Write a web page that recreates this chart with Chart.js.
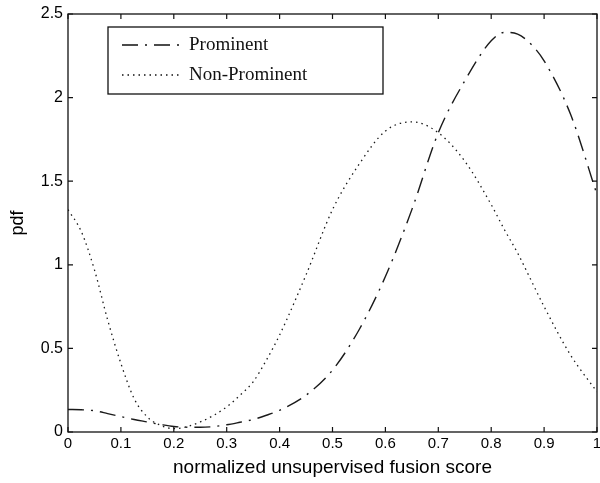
<!DOCTYPE html>
<html>
<head>
<meta charset="utf-8">
<script src="https://cdn.jsdelivr.net/npm/chart.js@4/dist/chart.umd.min.js"></script>
<style>
html,body{margin:0;padding:0;background:#fff;}
#wrap{width:600px;height:483px;position:relative;}
</style>
</head>
<body>
<div id="wrap"><canvas id="chart"></canvas></div>
<script>

// score values on the x axis
let scores = [0, 0.025, 0.05, 0.075, 0.1, 0.125, 0.15, 0.175, 0.2, 0.25, 0.3, 0.325, 0.35, 0.375, 0.4, 0.45, 0.5, 0.55, 0.6, 0.65, 0.7, 0.75, 0.8, 0.825, 0.85, 0.875, 0.9, 0.95, 1.0];

let prominent = [0.135, 0.133, 0.127, 0.11, 0.092, 0.075, 0.06, 0.045, 0.033, 0.028, 0.043, 0.058, 0.075, 0.10, 0.13, 0.22, 0.37, 0.61, 0.93, 1.33, 1.79, 2.10, 2.34, 2.39, 2.38, 2.32, 2.22, 1.90, 1.42];

let nonProminent = [1.33, 1.20, 0.97, 0.67, 0.41, 0.20, 0.09, 0.04, 0.02, 0.06, 0.15, 0.22, 0.30, 0.43, 0.58, 0.94, 1.33, 1.60, 1.80, 1.855, 1.79, 1.62, 1.36, 1.21, 1.07, 0.91, 0.75, 0.46, 0.24];

let seriesLabels = ["Prominent", "Non-Prominent"];

let xTitle = "normalized unsupervised fusion score";
let yTitle = "pdf";

function toPoints(values){
return scores.map((s, i) => ({x: s, y: values[i]}));
}

// matlab style labels: 1 not 1.0
function shortLabel(value){
return String(Number(value.toFixed(2)));
}

/* box, inward ticks and legend like the matlab figure */
let matlabFrame = {
id: "matlabFrame",
afterDatasetsDraw(chart){
let ctx = chart.ctx;
let a = chart.chartArea;
let xs = chart.scales.x;
let ys = chart.scales.y;

ctx.save();
ctx.strokeStyle = "#111";
ctx.lineWidth = 1.3;
ctx.strokeRect(a.left, a.top, a.right - a.left, a.bottom - a.top);

ctx.lineWidth = 1.2;
ctx.beginPath();
xs.ticks.forEach(t => {
let px = xs.getPixelForValue(t.value);
ctx.moveTo(px, a.bottom); ctx.lineTo(px, a.bottom - 5);
ctx.moveTo(px, a.top); ctx.lineTo(px, a.top + 5);
});
ys.ticks.forEach(t => {
let py = ys.getPixelForValue(t.value);
ctx.moveTo(a.left, py); ctx.lineTo(a.left + 5, py);
ctx.moveTo(a.right, py); ctx.lineTo(a.right - 5, py);
});
ctx.stroke();

/* legend */
let lx = a.left + 40, ly = a.top + 13, lw = 275, lh = 67;
ctx.fillStyle = "#fff";
ctx.fillRect(lx, ly, lw, lh);
ctx.lineWidth = 1.3;
ctx.strokeRect(lx, ly, lw, lh);

ctx.font = "19px 'Liberation Serif', 'DejaVu Serif', serif";
ctx.textBaseline = "middle";
chart.data.datasets.forEach((ds, i) => {
let rowY = ly + 18 + i * 30;
ctx.strokeStyle = "#111";
ctx.lineWidth = ds.borderWidth;
ctx.setLineDash(ds.borderDash);
ctx.beginPath();
ctx.moveTo(lx + 14, rowY);
ctx.lineTo(lx + 74, rowY);
ctx.stroke();
ctx.setLineDash([]);
ctx.fillStyle = "#111";
ctx.fillText(ds.label, lx + 81, rowY);
});
ctx.restore();
}
};

let ctx = document.getElementById("chart").getContext("2d");

let chart = new Chart(ctx, {
type: "line",
data: {
datasets: [{
label: seriesLabels[0],
data: toPoints(prominent),
borderColor: "#1a1a1a",
borderWidth: 1.4,
borderDash: [16, 7, 2, 7],
pointRadius: 0,
cubicInterpolationMode: "monotone",
fill: false
},{
label: seriesLabels[1],
data: toPoints(nonProminent),
borderColor: "#1a1a1a",
borderWidth: 1.3,
borderDash: [1.5, 4],
pointRadius: 0,
cubicInterpolationMode: "monotone",
fill: false
}]
},
plugins: [matlabFrame],
options: {
responsive: true,
maintainAspectRatio: false,
animation: false,
layout: {padding: {top: 14, right: 3, left: 0, bottom: 0}},
plugins: {
legend: {display: false},
tooltip: {enabled: false}
},
scales: {
x: {
type: "linear",
min: 0,
max: 1,
grid: {display: false, drawTicks: false},
border: {display: false},
ticks: {
stepSize: 0.1,
padding: 3,
color: "#000",
callback: shortLabel,
font: {family: "'Liberation Sans', Arial, sans-serif", size: 15}
},
title: {
display: true,
text: xTitle,
color: "#000",
padding: {top: 0, bottom: 4},
font: {family: "'Liberation Sans', Arial, sans-serif", size: 19}
},
afterFit(scale){
scale.height = 51;
scale.paddingLeft = 0;
scale.paddingRight = 0;
}
},
y: {
min: 0,
max: 2.5,
grid: {display: false, drawTicks: false},
border: {display: false},
ticks: {
stepSize: 0.5,
padding: 5,
color: "#000",
callback: shortLabel,
font: {family: "'Liberation Sans', Arial, sans-serif", size: 16}
},
title: {
display: true,
text: yTitle,
color: "#000",
padding: {top: 7, bottom: 0},
font: {family: "'Liberation Sans', Arial, sans-serif", size: 18}
},
afterFit(scale){
scale.width = 68;
scale.paddingTop = 0;
scale.paddingBottom = 0;
}
}
}
}
});

</script>
</body>
</html>
